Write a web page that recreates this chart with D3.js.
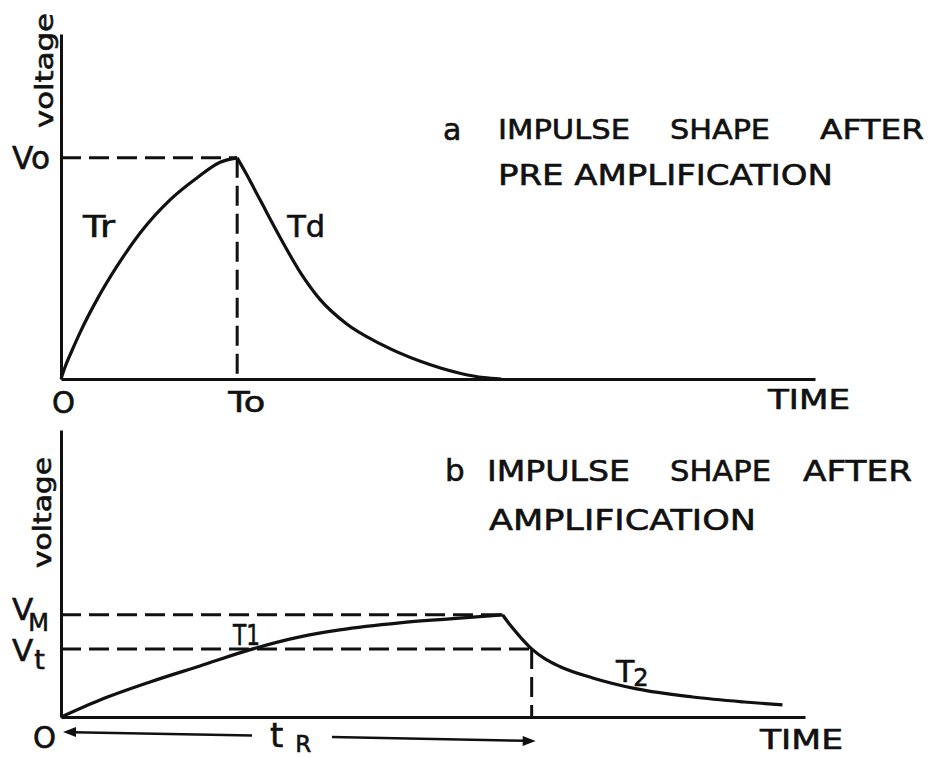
<!DOCTYPE html>
<html>
<head>
<meta charset="utf-8">
<script src="https://cdn.jsdelivr.net/npm/d3@7"></script>
<style>
  body { margin: 0; background: #fff; }
  text { font-family: "DejaVu Sans", sans-serif; fill: #111; stroke: #111; stroke-width: 0.6px; }
</style>
</head>
<body>
<svg id="chart" width="940" height="758"></svg>
<script>
// ---- Panel a: impulse after pre-amplification (time in units of T0, voltage in units of V0)
const riseA_time  = [0, 0.023, 0.063, 0.108, 0.205, 0.318, 0.449, 0.619, 0.773, 0.903, 1.0];
const riseA_volt  = [0, 0.054, 0.13, 0.21, 0.36, 0.51, 0.66, 0.81, 0.91, 0.98, 1.0];
const decayA_time = [1.0, 1.05, 1.13, 1.244, 1.36, 1.47, 1.62, 1.81, 2.04, 2.27, 2.40, 2.5];
const decayA_volt = [1.0, 0.93, 0.81, 0.64, 0.48, 0.36, 0.25, 0.16, 0.08, 0.025, 0.006, 0];
const T0 = 1.0;
const V0 = 1.0;

// ---- Panel b: impulse after amplification (voltage in units of VM)
const riseB_time  = [0, 0.222, 0.506, 0.790, 1.091, 1.358, 1.585, 1.926, 2.210, 2.511];
const riseB_volt  = [0, 0.167, 0.343, 0.500, 0.667, 0.784, 0.853, 0.922, 0.961, 1.0];
const decayB_time = [2.511, 2.563, 2.619, 2.676, 2.750, 2.835, 3.023, 3.273, 3.591, 3.886, 4.102];
const decayB_volt = [1.0, 0.88, 0.768, 0.667, 0.571, 0.495, 0.382, 0.275, 0.196, 0.147, 0.118];
const VM = 1.0;
const Vt = 0.667;
const tR = 2.676;

// ---- Text
const titleA = ["IMPULSE", "SHAPE", "AFTER"];
const titleA2 = "PRE AMPLIFICATION";
const titleB = ["IMPULSE", "SHAPE", "AFTER"];
const titleB2 = "AMPLIFICATION";
const yAxisTitle = "voltage";
const xAxisTitle = "TIME";

const svg = d3.select("#chart");
const ink = "#111";

const xA = d3.scaleLinear().domain([0, 4.28]).range([61, 815]);
const yA = d3.scaleLinear().domain([0, 1.56]).range([379, 34]);
const xB = d3.scaleLinear().domain([0, 4.23]).range([61, 805]);
const yB = d3.scaleLinear().domain([0, 2.81]).range([717, 430]);

function bareAxis(g) {
  g.select(".domain").attr("stroke", ink).attr("stroke-width", 3);
}

function txt(x, y, s, size, len, anchor) {
  const t = svg.append("text").attr("x", x).attr("y", y)
    .attr("font-size", size).text(s);
  if (len) t.attr("textLength", len).attr("lengthAdjust", "spacingAndGlyphs");
  if (anchor) t.attr("text-anchor", anchor);
  return t;
}

// symbol with a lowered, smaller suffix (V_M, V_t, T_2, t_R)
function subText(x, y, main, mainSize, sub, subSize, dx, dy) {
  const t = svg.append("text").attr("x", x).attr("y", y).attr("font-size", mainSize);
  t.append("tspan").text(main);
  t.append("tspan").attr("dx", dx).attr("dy", dy).attr("font-size", subSize).text(sub);
  return t;
}

function vText(x, y, s, size, len) {
  svg.append("text")
    .attr("transform", `translate(${x},${y}) rotate(-90)`)
    .attr("font-size", size)
    .attr("textLength", len).attr("lengthAdjust", "spacingAndGlyphs")
    .text(s);
}

function dashed(x1, y1, x2, y2) {
  svg.append("line").attr("x1", x1).attr("y1", y1).attr("x2", x2).attr("y2", y2)
    .attr("stroke", ink).attr("stroke-width", 3).attr("stroke-dasharray", "20,8");
}

function curve(xs, ys, times, volts) {
  const pts = d3.zip(times, volts);
  svg.append("path").datum(pts)
    .attr("fill", "none").attr("stroke", ink).attr("stroke-width", 3.2)
    .attr("stroke-linejoin", "round")
    .attr("d", d3.line().x(d => xs(d[0])).y(d => ys(d[1])).curve(d3.curveMonotoneX));
}

// ================= Panel a =================
svg.append("g").attr("transform", `translate(0,${yA(0)})`)
  .call(d3.axisBottom(xA).tickValues([]).tickSizeOuter(0)).call(bareAxis);
svg.append("g").attr("transform", `translate(${xA(0)},0)`)
  .call(d3.axisLeft(yA).tickValues([]).tickSizeOuter(0)).call(bareAxis);

dashed(xA(0), yA(V0), xA(T0), yA(V0));
dashed(xA(T0), yA(V0), xA(T0), yA(0));

curve(xA, yA, riseA_time, riseA_volt);
curve(xA, yA, decayA_time, decayA_volt);

vText(53, 128, yAxisTitle, 24, 115);
txt(12, yA(V0) + 11, "Vo", 32, 38);
txt(xA(0) - 9, yA(0) + 34, "O", 30, 23);
txt(xA(T0) - 9, yA(0) + 33, "To", 29, 37);
txt(xA(0.125), 237, "Tr", 31, 32);
txt(xA(1.284), 237, "Td", 31, 38);
txt(768, 409, xAxisTitle, 26, 82);

txt(443, 140, "a", 30);
const titleAX = [498, 670, 820], titleAW = [132, 100, 104];
titleA.forEach((w, i) => txt(titleAX[i], 139, w, 27, titleAW[i]));
txt(498, 185, titleA2, 28, 335);

// ================= Panel b =================
svg.append("g").attr("transform", `translate(0,${yB(0)})`)
  .call(d3.axisBottom(xB).tickValues([]).tickSizeOuter(0)).call(bareAxis);
svg.append("g").attr("transform", `translate(${xB(0)},0)`)
  .call(d3.axisLeft(yB).tickValues([]).tickSizeOuter(0)).call(bareAxis);

dashed(xB(0), yB(VM), xB(riseB_time[riseB_time.length - 1]), yB(VM));
dashed(xB(0), yB(Vt), xB(tR), yB(Vt));
dashed(xB(tR), yB(Vt), xB(tR), yB(0));

curve(xB, yB, riseB_time, riseB_volt);
curve(xB, yB, decayB_time, decayB_volt);

vText(51, 568, yAxisTitle, 24, 111);

// V_M and V_t level labels
subText(12, yB(VM) + 5, "V", 31, "M", 24, -5, 11);
subText(12, yB(Vt) + 12, "V", 31, "t", 27, 1, 8);

txt(233, 645, "T1", 28, 27);
subText(616, 682, "T", 30, "2", 24, -1, 4);

txt(33, yB(0) + 31, "O", 31, 23);
txt(760, 749, xAxisTitle, 27, 83);

txt(445, 481, "b", 31);
const titleBX = [487, 670, 803], titleBW = [143, 101, 109];
titleB.forEach((w, i) => txt(titleBX[i], 481, w, 29, titleBW[i]));
txt(489, 530, titleB2, 29, 267);

// t_R span arrow: from the origin to the threshold-crossing time
const arrowY0 = 732, arrowY1 = 741;
const ax0 = xB(0) + 2, ax1 = xB(tR) + 4;
const ay = x => arrowY0 + (arrowY1 - arrowY0) * (x - ax0) / (ax1 - ax0);
const gapL = 252, gapR = 332;
svg.append("line").attr("x1", ax0 + 10).attr("y1", ay(ax0 + 10)).attr("x2", gapL).attr("y2", ay(gapL))
  .attr("stroke", ink).attr("stroke-width", 2.5);
svg.append("line").attr("x1", gapR).attr("y1", ay(gapR)).attr("x2", ax1 - 10).attr("y2", ay(ax1 - 10))
  .attr("stroke", ink).attr("stroke-width", 2.5);
svg.append("path")
  .attr("d", `M${ax0},${ay(ax0)}L${ax0 + 13},${ay(ax0) - 5}L${ax0 + 13},${ay(ax0) + 5}Z`)
  .attr("fill", ink);
svg.append("path")
  .attr("d", `M${ax1},${ay(ax1)}L${ax1 - 13},${ay(ax1) - 5}L${ax1 - 13},${ay(ax1) + 5}Z`)
  .attr("fill", ink);
subText(270, 747, "t", 34, "R", 23, 12, 5);
</script>
</body>
</html>
